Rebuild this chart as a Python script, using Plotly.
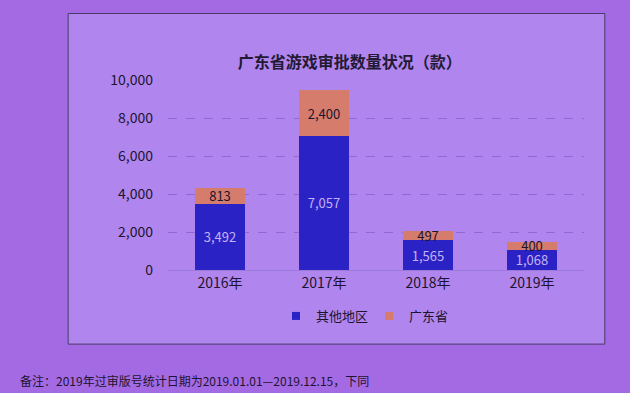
import plotly.graph_objects as go

years = ["2016年", "2017年", "2018年", "2019年"]
other_regions = [3492, 7057, 1565, 1068]
guangdong = [813, 2400, 497, 400]
y_ticks = [0, 2000, 4000, 6000, 8000, 10000]
y_tick_labels = ["0", "2,000", "4,000", "6,000", "8,000", "10,000"]

FONT = "Noto Sans CJK SC, Noto Sans, sans-serif"
BLUE = "#2b22c6"
ORANGE = "#d67c6c"

fig = go.Figure()
fig.add_trace(go.Bar(
    x=years, y=other_regions, name="其他地区", showlegend=False,
    marker=dict(color=BLUE, line=dict(width=0)),
    text=[f"{v:,}" for v in other_regions], textposition="inside",
    insidetextanchor="middle", constraintext="none",
    textfont=dict(color="#c3b2f2", size=13, family=FONT),
))
fig.add_trace(go.Bar(
    x=years, y=guangdong, name="广东省", showlegend=False,
    marker=dict(color=ORANGE, line=dict(width=0)),
    text=[f"{v:,}" for v in guangdong], textposition="inside",
    insidetextanchor="middle", constraintext="none",
    textfont=dict(color="#1c1430", size=13, family=FONT),
))
# legend entries with small square markers
for name, col in (("其他地区", BLUE), ("广东省", ORANGE)):
    fig.add_trace(go.Scatter(
        x=[None], y=[None], mode="markers", name=name,
        marker=dict(symbol="square", size=8, color=col),
    ))

fig.update_layout(
    width=630, height=393,
    barmode="stack", bargap=0.52,
    paper_bgcolor="#a46ae4",
    plot_bgcolor="rgba(0,0,0,0)",
    margin=dict(l=168, r=46, t=80, b=123, autoexpand=False),
    font=dict(family=FONT, color="#1c1430"),
    title=dict(text="<b>广东省游戏审批数量状况（款）</b>", x=0.555, xanchor="center",
               xref="container", yref="container",
               y=1 - 62 / 393, yanchor="middle",
               font=dict(size=16, color="#221a35", family=FONT)),
    showlegend=True,
    legend=dict(orientation="h", x=(276 - 168) / 416, xanchor="left",
                yref="container", y=1 - 316 / 393, yanchor="middle",
                font=dict(size=13, color="#1c1430"), bgcolor="rgba(0,0,0,0)",
                traceorder="normal", itemwidth=30, itemsizing="trace",
                entrywidth=48, entrywidthmode="pixels"),
)
fig.update_xaxes(showgrid=False, showline=True, linecolor="#9a78d8", linewidth=1,
                 ticks="", tickfont=dict(size=14, color="#1c1430"))
fig.update_yaxes(range=[0, 10000], tickvals=y_ticks, ticktext=y_tick_labels,
                 showgrid=True, gridcolor="#9366d2", griddash="dash", gridwidth=1,
                 zeroline=False, ticks="", ticklabelstandoff=14,
                 tickfont=dict(size=14, color="#1c1430"))

fig.add_shape(type="rect", xref="paper", yref="paper", layer="below",
              x0=-0.24, x1=1.05, y0=-0.39, y1=1.35,
              fillcolor="#b185ee", line=dict(color="#4a3a6a", width=1))
fig.add_annotation(text="备注：2019年过审版号统计日期为2019.01.01—2019.12.15，下同",
                   xref="paper", yref="paper", x=-0.36, y=-110 / 190,
                   xanchor="left", yanchor="middle", showarrow=False,
                   font=dict(size=12, color="#1c1430", family=FONT))

fig.write_html("out.html", config={"displayModeBar": False},
               post_script="document.body.style.margin='0';document.body.style.background='#a46ae4';")
